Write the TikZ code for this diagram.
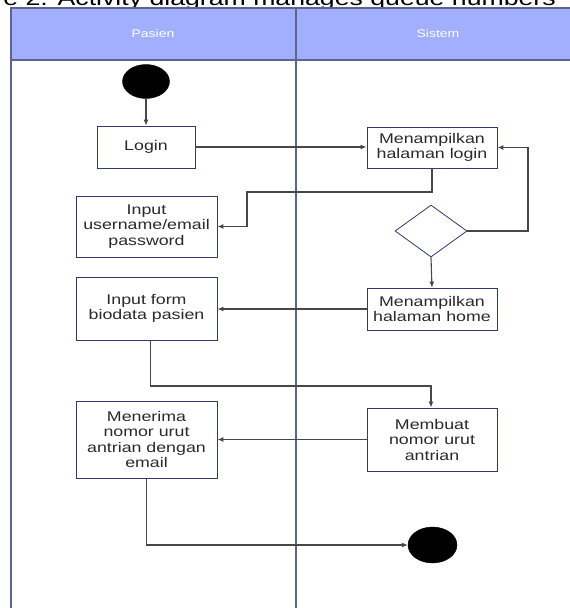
\documentclass[tikz,border=0pt]{standalone}
\usepackage{fontspec}
\setmainfont{Liberation Sans}[FakeStretch=1.27]
\usepackage{tikz}
\usetikzlibrary{positioning,arrows.meta,shapes.geometric}
\definecolor{lanehead}{HTML}{A2AFFE}
\definecolor{laneline}{HTML}{5B668F}
\definecolor{boxline}{HTML}{2F3B6A}
\definecolor{flowgrey}{HTML}{474747}
\definecolor{boxtext}{HTML}{2A2A2A}

\begin{document}
\begin{tikzpicture}[
    x=1pt, y=-1pt,
    >={Latex[length=6pt,width=5pt]},
    act/.style={draw=boxline, fill=white, line width=0.9pt, align=center,
                inner sep=0pt, text=boxtext,
                font=\fontsize{14}{15.5}\selectfont},
    userbox/.style={act, minimum width=141pt},
    sysbox/.style={act, minimum width=130pt},
    dot/.style={ellipse, fill=black, draw=black, inner sep=0pt,
                minimum width=47pt, minimum height=34pt},
    decision/.style={diamond, draw=boxline, fill=white, line width=0.8pt,
                     inner sep=0pt, aspect=1.38, minimum width=72pt,
                     minimum height=52pt},
    flow/.style={->, draw=flowgrey, line width=1.1pt},
    lanetitle/.style={text=white, font=\fontsize{11}{13}\selectfont},
]
\useasboundingbox (0,0) rectangle (570,608);
\clip (0,0) rectangle (570,608);

% Caption (cut off at the top)
\node[anchor=base east, font=\fontsize{21}{24}\selectfont, inner sep=0pt]
    (caption) at (556,5.5) {Figure 2. Activity diagram manages queue numbers};

% Swimlanes
\draw[fill=lanehead, draw=laneline, line width=1.2pt] (11,8) rectangle (590,60);
\draw[laneline, line width=1.5pt] (11,8) -- (11,620);
\draw[laneline, line width=1.5pt] (296,8) -- (296,620);
\node[lanetitle] (pasien) at (153,34) {Pasien};
\node[lanetitle] (sistem) at (438,34) {Sistem};

% Pasien lane
\node[dot] (start) at (146,81.5) {};
\node[userbox, minimum width=98pt, minimum height=42pt] (login)
    at (146,147) {Login};
\node[userbox, minimum height=61pt] (inputuser)
    at (146.5,226.5) {Input\\username/email\\password};
\node[userbox, minimum height=63pt] (inputform)
    at (146.5,308.5) {Input form\\biodata pasien};
\node[userbox, minimum height=77pt] (terima)
    at (146.5,439.5) {Menerima\\nomor urut\\antrian dengan\\email};

% Sistem lane
\node[sysbox, minimum height=41pt] (showlogin)
    at (432,147.5) {Menampilkan\\halaman login};
\node[decision] (cek) at (431,231) {};
\node[sysbox, minimum height=42pt] (showhome)
    at (432,309) {Menampilkan\\halaman home};
\node[sysbox, minimum height=63pt] (buat)
    at (432,439.5) {Membuat\\nomor urut\\antrian};
\node[dot, minimum width=49pt, minimum height=36pt] (finish)
    at (432.5,545) {};

% Flow
\draw[flow] (start) -- (login);
\draw[flow] (login.east) -- (login.east -| showlogin.west);
\draw[flow] (showlogin.south) |- (247,192) |- (inputuser.east);
\draw[flow] (cek.east) -- (528,231) |- (showlogin.east);
\draw[flow] (cek.south) -- (showhome.north);
\draw[flow] (showhome.west) -- (showhome.west -| inputform.east);
\draw[flow] ([xshift=4pt]inputform.south) |- (431,386) -- (buat.north -| 431,0);
\draw[flow] (buat.west) -- (buat.west -| terima.east);
\draw[flow] (terima.south) |- (finish.west);

\end{tikzpicture}
\end{document}
